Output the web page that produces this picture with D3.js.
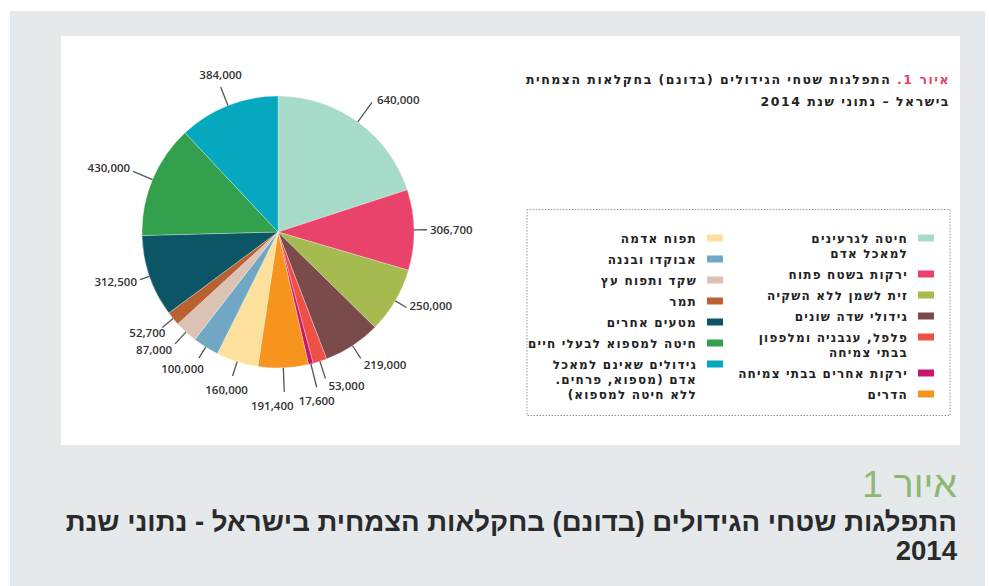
<!DOCTYPE html>
<html lang="he">
<head>
<meta charset="utf-8">
<script src="https://cdn.jsdelivr.net/npm/d3@7"></script>
<style>
  body { margin: 0; background: #fff; }
  svg { display: block; }
</style>
</head>
<body>
<svg id="chart" width="989" height="586"></svg>
<script>
// Crop areas (dunam), 2014 — pie slices run clockwise from 12 o'clock
const categories = [
  "חיטה לגרעינים\nלמאכל אדם",
  "ירקות בשטח פתוח",
  "זית לשמן ללא השקיה",
  "גידולי שדה שונים",
  "פלפל, עגבניה ומלפפון\nבבתי צמיחה",
  "ירקות אחרים בבתי צמיחה",
  "הדרים",
  "תפוח אדמה",
  "אבוקדו ובננה",
  "שקד ותפוח עץ",
  "תמר",
  "מטעים אחרים",
  "חיטה למספוא לבעלי חיים",
  "גידולים שאינם למאכל\nאדם (מספוא, פרחים.\nללא חיטה למספוא)"
];
const areas = [640000, 306700, 250000, 219000, 53000, 17600, 191400,
               160000, 100000, 87000, 52700, 312500, 430000, 384000];
const palette = ["#a6dbc9", "#e9426b", "#a5ba4f", "#7b4a4b", "#ee5046", "#c8166d", "#f7941d",
                 "#fde09b", "#6fa7c5", "#dcc1b5", "#ba6131", "#0c5566", "#33a04b", "#05a8bf"];

const figureTitle = ["איור 1.", " התפלגות שטחי הגידולים (בדונם) בחקלאות הצמחית", "בישראל – נתוני שנת 2014"];
const captionHeading = "איור 1";
const captionLines = ["התפלגות שטחי הגידולים (בדונם) בחקלאות הצמחית בישראל - נתוני שנת", "2014"];

// layout
const W = 989, H = 586;
const cx = 278, cy = 232, R = 136;
const leaderLen = [24, 13, 13, 15, 18, 24, 24, 15, 13, 16, 14, 10, 21, 20];
// small hand offsets [dx, dy] for value labels that would otherwise crowd
const labelNudge = [[2, 4], [0, 0], [0, -5], [0, 0], [0, 0], [0, 0], [-12, 0],
                    [-6, 0], [8, 4], [0, 0], [6, 0], [0, 0], [0, 0], [0, 0]];
const legendFont = "'DejaVu Sans', sans-serif";

const svg = d3.select("#chart");

// page background and white figure area
svg.append("rect").attr("x", 10).attr("y", 11).attr("width", 975).attr("height", H - 11).attr("fill", "#e6e9ec");
svg.append("rect").attr("x", 61).attr("y", 36).attr("width", 899).attr("height", 409).attr("fill", "#fff");

// pie
const data = areas.map((v, i) => ({ name: categories[i], value: v, color: palette[i], i }));
const pie = d3.pie().sort(null).value(d => d.value);
const arcs = pie(data);
const arc = d3.arc().innerRadius(0).outerRadius(R);

const g = svg.append("g").attr("transform", `translate(${cx},${cy})`);
g.selectAll("path.slice").data(arcs).join("path")
  .attr("class", "slice")
  .attr("d", arc)
  .attr("fill", d => d.data.color)
  .attr("stroke", "#fff")
  .attr("stroke-width", 0.3);

// leader lines and value labels
const fmt = d3.format(",");
arcs.forEach((d, i) => {
  const a = (d.startAngle + d.endAngle) / 2;
  const s = Math.sin(a), c = Math.cos(a);
  const L = leaderLen[i];
  const x1 = s * R, y1 = -c * R;
  const x2 = s * (R + L), y2 = -c * (R + L);
  g.append("line")
    .attr("x1", x1).attr("y1", y1).attr("x2", x2).attr("y2", y2)
    .attr("stroke", "#555").attr("stroke-width", 1.3);
  let tx, ty, anchor;
  if (Math.abs(s) < 0.305 || c > 0.9) {
    anchor = "middle";
    tx = x2;
    ty = c > 0 ? y2 - 8 : y2 + 18;
  } else {
    anchor = s > 0 ? "start" : "end";
    tx = x2 + (s > 0 ? 3 : -3);
    ty = y2 - c * 8 + 4;
  }
  g.append("text")
    .attr("x", tx + labelNudge[i][0]).attr("y", ty + labelNudge[i][1])
    .attr("text-anchor", anchor)
    .attr("font-family", "'Open Sans', sans-serif")
    .attr("font-size", 11.5)
    .attr("font-weight", 600)
    .attr("fill", "#333")
    .text(fmt(d.data.value));
});

// figure title (right-to-left)
const t1 = svg.append("text")
  .attr("x", 950).attr("y", 84)
  .attr("direction", "rtl").attr("text-anchor", "start")
  .attr("font-family", legendFont).attr("font-weight", "bold")
  .attr("font-size", 12.5).attr("letter-spacing", 1.5).attr("fill", "#222");
t1.append("tspan").attr("fill", "#e9426b").text(figureTitle[0]);
t1.append("tspan").text(figureTitle[1]);
svg.append("text")
  .attr("x", 950).attr("y", 106)
  .attr("direction", "rtl").attr("text-anchor", "start")
  .attr("font-family", legendFont).attr("font-weight", "bold")
  .attr("font-size", 12.5).attr("letter-spacing", 1.5).attr("fill", "#222")
  .text(figureTitle[2]);

// legend box
svg.append("rect")
  .attr("x", 527).attr("y", 209.5).attr("width", 423).attr("height", 206)
  .attr("fill", "none").attr("stroke", "#999").attr("stroke-width", 1)
  .attr("stroke-dasharray", "1.5,1.5");

const columns = [
  { items: data.slice(0, 7), swatchX: 918, textX: 908 },
  { items: data.slice(7), swatchX: 707, textX: 697 }
];
const lineH = 15, itemGap = 6, firstY = 238;
columns.forEach(col => {
  let y = firstY;
  col.items.forEach(d => {
    const lines = d.name.split("\n");
    svg.append("rect")
      .attr("x", col.swatchX).attr("y", y - 3.5)
      .attr("width", 16).attr("height", 7)
      .attr("fill", d.color);
    lines.forEach((ln, k) => {
      svg.append("text")
        .attr("x", col.textX).attr("y", y + k * lineH + 4.5)
        .attr("direction", "rtl").attr("text-anchor", "start")
        .attr("font-family", legendFont).attr("font-weight", "bold")
        .attr("font-size", 12).attr("letter-spacing", 1.2).attr("fill", "#222")
        .text(ln);
    });
    y += lines.length * lineH + itemGap;
  });
});

// caption below the figure
const cap = svg.append("g");
const capHead = cap.append("text")
  .attr("x", 957).attr("y", 497)
  .attr("direction", "rtl").attr("text-anchor", "start")
  .attr("font-family", "'Liberation Sans', Arial, sans-serif")
  .attr("font-size", 37).attr("fill", "#8db870")
  .text(captionHeading);
const capLines = captionLines.map((t, k) => cap.append("text")
  .attr("x", 957).attr("y", 531 + k * 29)
  .attr("direction", "rtl").attr("text-anchor", "start")
  .attr("font-family", "'Liberation Sans', Arial, sans-serif")
  .attr("font-weight", "bold")
  .attr("font-size", 27).attr("fill", "#2a2a2a")
  .text(t));

// condense the caption so its first line spans the figure width
const natural = capLines[0].node().getComputedTextLength();
const sx = 892 / natural;
[capHead, ...capLines].forEach(t => {
  t.attr("transform", `translate(957,0) scale(${sx},1) translate(-957,0)`);
});
</script>
</body>
</html>
